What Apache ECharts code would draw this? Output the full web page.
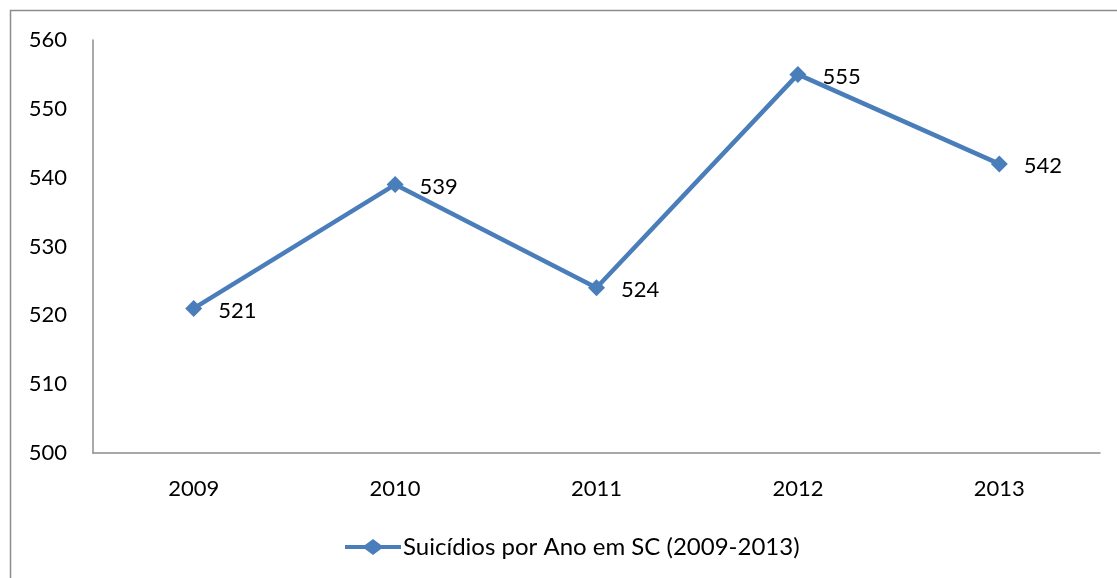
<!DOCTYPE html>
<html>
<head>
<meta charset="utf-8">
<script src="https://cdn.jsdelivr.net/npm/echarts@6/dist/echarts.min.js"></script>
<style>
  html, body { margin: 0; padding: 0; background: #fff; }
  #chart { width: 1117px; height: 578px; }
</style>
</head>
<body>
<div id="chart"></div>
<script>
// Annual suicide counts in Santa Catarina
const years = ['2009', '2010', '2011', '2012', '2013'];
const suicides = [521, 539, 524, 555, 542];
const seriesName = 'Suicídios por Ano em SC (2009-2013)';

const FONT = 'Lato, "Open Sans", sans-serif';
const BLUE = '#4a7ebb';
// legend swatch: a short line with a diamond in the middle
const LINE_DIAMOND = 'path://M0,6 L20,6 L28,0 L36,6 L56,6 L56,10 L36,10 L28,16 L20,10 L0,10 Z';

const chart = echarts.init(document.getElementById('chart'), null, { renderer: 'canvas' });
chart.setOption({
  animation: false,
  backgroundColor: '#fff',
  textStyle: { fontFamily: FONT },
  graphic: [{
    type: 'rect',
    shape: { x: 10.5, y: 10.5, width: 1300, height: 800 },
    style: { fill: 'none', stroke: '#8c8c8c', lineWidth: 1.5 },
    silent: true
  }],
  grid: { left: 93, right: 17, top: 40, bottom: 125, containLabel: false },
  legend: {
    left: 340,
    top: 530,
    itemWidth: 56,
    itemHeight: 16,
    itemGap: 10,
    textStyle: { fontFamily: FONT, fontSize: 24, color: '#000', padding: [0, 0, 0, -3] },
    data: [{ name: seriesName, icon: LINE_DIAMOND }]
  },
  xAxis: {
    type: 'category',
    data: years,
    boundaryGap: true,
    axisLine: { show: true, lineStyle: { color: '#8c8c8c', width: 1.5 } },
    axisTick: { show: false },
    axisLabel: { color: '#000', fontSize: 22, fontFamily: FONT, margin: 25 },
    splitLine: { show: false }
  },
  yAxis: {
    type: 'value',
    min: 500,
    max: 560,
    interval: 10,
    axisLine: { show: true, lineStyle: { color: '#8c8c8c', width: 1.5 } },
    axisTick: { show: false },
    axisLabel: { color: '#000', fontSize: 22, fontFamily: FONT, margin: 26 },
    splitLine: { show: false }
  },
  series: [{
    name: seriesName,
    type: 'line',
    data: suicides,
    symbol: 'diamond',
    symbolSize: 17,
    itemStyle: { color: BLUE },
    lineStyle: { color: BLUE, width: 4.5 },
    label: {
      show: true,
      position: 'right',
      distance: 16,
      offset: [0, 2],
      color: '#000',
      fontSize: 22,
      fontFamily: FONT
    }
  }]
});
</script>
</body>
</html>
